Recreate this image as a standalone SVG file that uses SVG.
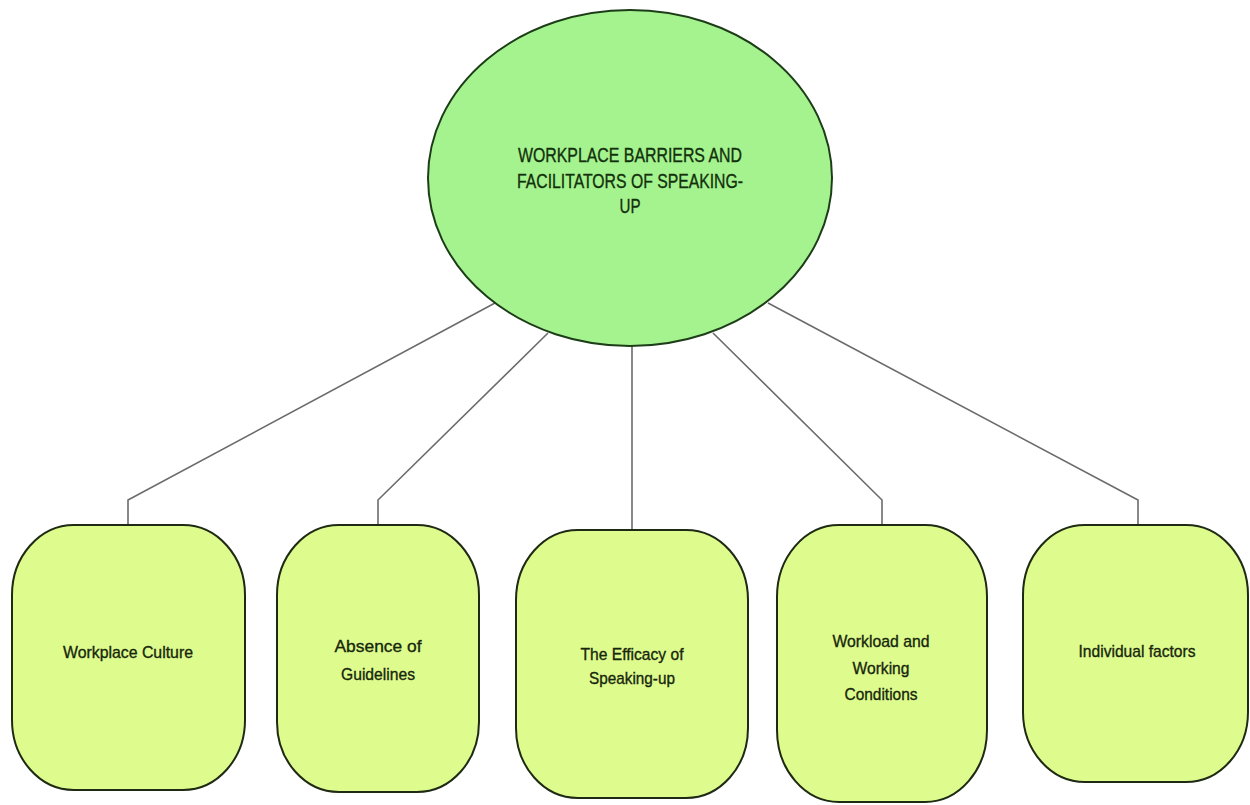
<svg xmlns="http://www.w3.org/2000/svg" width="1250" height="805" viewBox="0 0 1250 805">
<style>
.conn{fill:none;stroke:#6b6b6b;stroke-width:1.6}
.hub{fill:#a5f38f;stroke:#1d3d18;stroke-width:2}
.box{fill:#defc8e;stroke:#1f2a14;stroke-width:2}
.t{font-family:"Liberation Sans",Arial,sans-serif;fill:#17260c;stroke:#17260c;stroke-width:0.35;text-anchor:middle}
.tt{font-size:20px;fill:#13300c;stroke:#13300c}
.bt{font-size:17px}
</style>
<rect width="1250" height="805" fill="#ffffff"/>
<g id="connectors">
<polyline class="conn" points="495,303 128,500 128,525"/>
<polyline class="conn" points="548,333 378,500 378,525"/>
<polyline class="conn" points="632,345 632,530"/>
<polyline class="conn" points="713,333 882,500 882,525"/>
<polyline class="conn" points="768,303 1138,500 1138,525"/>
</g>
<g id="hub">
<ellipse class="hub" cx="630" cy="178" rx="202" ry="168"/>
<text class="t tt" x="630" y="162" textLength="224" lengthAdjust="spacingAndGlyphs">WORKPLACE BARRIERS AND</text>
<text class="t tt" x="630" y="188" textLength="226" lengthAdjust="spacingAndGlyphs">FACILITATORS OF SPEAKING-</text>
<text class="t tt" x="630" y="213" textLength="21" lengthAdjust="spacingAndGlyphs">UP</text>
</g>
<g id="node-workplace-culture">
<rect class="box" x="12" y="525" width="233" height="265" rx="62" ry="70"/>
<text class="t bt" x="128" y="658" textLength="130" lengthAdjust="spacingAndGlyphs">Workplace Culture</text>
</g>
<g id="node-absence-guidelines">
<rect class="box" x="277" y="525" width="202" height="267" rx="62" ry="70"/>
<text class="t bt" x="378" y="652" textLength="87" lengthAdjust="spacingAndGlyphs">Absence of</text>
<text class="t bt" x="378" y="680" textLength="74" lengthAdjust="spacingAndGlyphs">Guidelines</text>
</g>
<g id="node-efficacy">
<rect class="box" x="516" y="530" width="232" height="268" rx="62" ry="70"/>
<text class="t bt" x="632" y="660" textLength="103" lengthAdjust="spacingAndGlyphs">The Efficacy of</text>
<text class="t bt" x="632" y="684" textLength="86" lengthAdjust="spacingAndGlyphs">Speaking-up</text>
</g>
<g id="node-workload">
<rect class="box" x="777" y="525" width="210" height="277" rx="62" ry="72"/>
<text class="t bt" x="881" y="647" textLength="97" lengthAdjust="spacingAndGlyphs">Workload and</text>
<text class="t bt" x="881" y="674" textLength="57" lengthAdjust="spacingAndGlyphs">Working</text>
<text class="t bt" x="881" y="700" textLength="73" lengthAdjust="spacingAndGlyphs">Conditions</text>
</g>
<g id="node-individual">
<rect class="box" x="1023" y="525" width="225" height="257" rx="62" ry="70"/>
<text class="t bt" x="1137" y="657" textLength="117" lengthAdjust="spacingAndGlyphs">Individual factors</text>
</g>
</svg>
